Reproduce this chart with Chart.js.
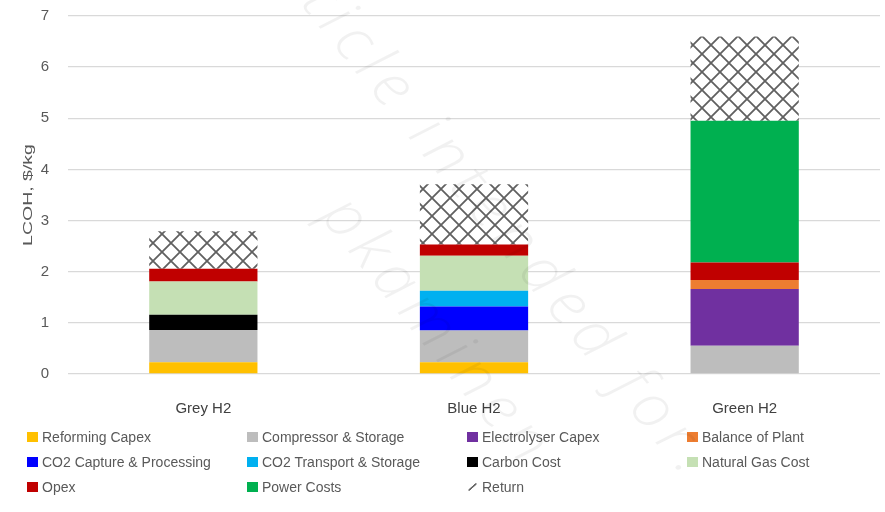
<!DOCTYPE html>
<html>
<head>
<meta charset="utf-8">
<script src="https://cdn.jsdelivr.net/npm/chart.js@4/dist/chart.umd.min.js"></script>
<style>
  html, body { margin: 0; padding: 0; background: #fff; }
  #wrap { position: relative; width: 885px; height: 512px; overflow: hidden; }
  #chart { position: absolute; left: 0; top: 0; }
  #legend { position: absolute; left: 0; top: 0; width: 885px; height: 512px; pointer-events: none;
            font-family: 'Liberation Sans', Arial, sans-serif; font-size: 14px; color: #595959; }
  .item { position: absolute; display: flex; align-items: center; white-space: nowrap; height: 16px; }
  .sw { width: 11px; height: 10px; margin-right: 4px; flex: none; }
  .wm { position: absolute; white-space: nowrap; transform-origin: 0 50%; pointer-events: none;
        font-family: 'Open Sans', 'DejaVu Sans', sans-serif; font-style: italic; font-weight: 300;
        color: rgba(0, 0, 0, 0.055); line-height: 1; }
</style>
</head>
<body>
<div id="wrap">
  <canvas id="chart" width="885" height="512"></canvas>
  <div id="legend"></div>
  <div class="wm" style="left:272px;top:-100px;font-size:62px;letter-spacing:8px;transform:rotate(51deg);">Article intended for.</div>
  <div class="wm" style="left:338px;top:170px;font-size:62px;letter-spacing:8px;transform:rotate(51deg);">pkaminen</div>
</div>
<script>
// Levelised cost of hydrogen by production route, $/kg
const categories = ['Grey H2', 'Blue H2', 'Green H2'];

const reformingCapex   = [0.23, 0.23, 0];
const compressorStor   = [0.63, 0.62, 0.55];
const electrolyserCapex= [0, 0, 1.11];
const balanceOfPlant   = [0, 0, 0.18];
const co2Capture       = [0, 0.47, 0];
const co2Transport     = [0, 0.31, 0];
const carbonCost       = [0.30, 0, 0];
const naturalGasCost   = [0.65, 0.68, 0];
const opex             = [0.25, 0.22, 0.34];
const powerCosts       = [0, 0, 2.77];
const returnOnCapital  = [0.73, 1.18, 1.65];

const yTicks = [0, 1, 2, 3, 4, 5, 6, 7];

// Cross-hatch fill for the return segment
function crossHatch() {
  const s = 18;
  const c = document.createElement('canvas');
  c.width = s; c.height = s;
  const g = c.getContext('2d');
  g.fillStyle = '#ffffff';
  g.fillRect(0, 0, s, s);
  g.strokeStyle = '#606060';
  g.lineWidth = 1.8;
  g.beginPath();
  for (const k of [-s, 0, s]) {
    g.moveTo(k, 0); g.lineTo(k + s, s);
    g.moveTo(k + s, 0); g.lineTo(k, s);
  }
  g.stroke();
  return document.getElementById('chart').getContext('2d').createPattern(c, 'repeat');
}

const series = [
  { label: 'Reforming Capex',          data: reformingCapex,    color: '#FFC000' },
  { label: 'Compressor & Storage',     data: compressorStor,    color: '#BDBDBD' },
  { label: 'Electrolyser Capex',       data: electrolyserCapex, color: '#7030A0' },
  { label: 'Balance of Plant',         data: balanceOfPlant,    color: '#ED7D31' },
  { label: 'CO2 Capture & Processing', data: co2Capture,        color: '#0000FF' },
  { label: 'CO2 Transport & Storage',  data: co2Transport,      color: '#00B0F0' },
  { label: 'Carbon Cost',              data: carbonCost,        color: '#000000' },
  { label: 'Natural Gas Cost',         data: naturalGasCost,    color: '#C5E0B4' },
  { label: 'Opex',                     data: opex,              color: '#C00000' },
  { label: 'Power Costs',              data: powerCosts,        color: '#00B050' },
  { label: 'Return',                   data: returnOnCapital,   color: null }
];

const hatch = crossHatch();

const datasets = series.map(s => ({
  label: s.label,
  data: s.data,
  backgroundColor: s.color || hatch,
  borderWidth: 0,
  barPercentage: 0.4,
  categoryPercentage: 1.0
}));

// Rotated, horizontally stretched y-axis title
const yTitle = {
  id: 'yTitle',
  afterDraw(chart) {
    const ctx = chart.ctx;
    const a = chart.chartArea;
    ctx.save();
    ctx.translate(28, (a.top + a.bottom) / 2);
    ctx.rotate(-Math.PI / 2);
    ctx.scale(1.5, 1);
    ctx.font = '13px "Liberation Sans", Arial, sans-serif';
    ctx.fillStyle = '#595959';
    ctx.textAlign = 'center';
    ctx.textBaseline = 'middle';
    ctx.fillText('LCOH, $/kg', 0, 0);
    ctx.restore();
  }
};

const chart = new Chart(document.getElementById('chart'), {
  type: 'bar',
  data: { labels: categories, datasets },
  options: {
    responsive: false,
    animation: false,
    devicePixelRatio: 1,
    layout: { padding: { left: 0, right: 5, top: 16, bottom: 0 } },
    plugins: { legend: { display: false }, tooltip: { enabled: false } },
    scales: {
      x: {
        stacked: true,
        grid: { display: false },
        border: { display: false },
        ticks: {
          color: '#404040',
          padding: 18,
          font: { family: "'Liberation Sans Narrow', 'Liberation Sans', Arial, sans-serif", size: 15 }
        },
        afterFit(s) { s.height = 138; }
      },
      y: {
        stacked: true,
        min: 0,
        max: 7,
        afterBuildTicks(s) { s.ticks = yTicks.map(v => ({ value: v })); },
        grid: { color: '#d9d9d9', lineWidth: 1.3, drawTicks: true, tickLength: 14, tickColor: 'rgba(0,0,0,0)' },
        border: { display: false },
        ticks: {
          color: '#595959',
          padding: 5,
          font: { family: "'Liberation Sans', Arial, sans-serif", size: 15 }
        },
        afterFit(s) { s.width = 68; }
      }
    }
  },
  plugins: [yTitle]
});

// Legend: four columns, three rows, built from the chart's datasets
const legend = document.getElementById('legend');
chart.data.datasets.forEach((ds, i) => {
  const col = i % 4, row = Math.floor(i / 4);
  const item = document.createElement('div');
  item.className = 'item';
  item.style.left = (27 + col * 220) + 'px';
  item.style.top = (429 + row * 25) + 'px';
  const sw = document.createElement('span');
  sw.className = 'sw';
  if (typeof ds.backgroundColor === 'string') {
    sw.style.background = ds.backgroundColor;
  } else {
    sw.style.background = 'linear-gradient(to bottom right, transparent 40%, #6a6a6a 44%, #6a6a6a 56%, transparent 60%)';
    sw.style.transform = 'scale(0.75)';
  }
  const tx = document.createElement('span');
  tx.textContent = ds.label;
  item.appendChild(sw);
  item.appendChild(tx);
  legend.appendChild(item);
});
</script>
</body>
</html>
